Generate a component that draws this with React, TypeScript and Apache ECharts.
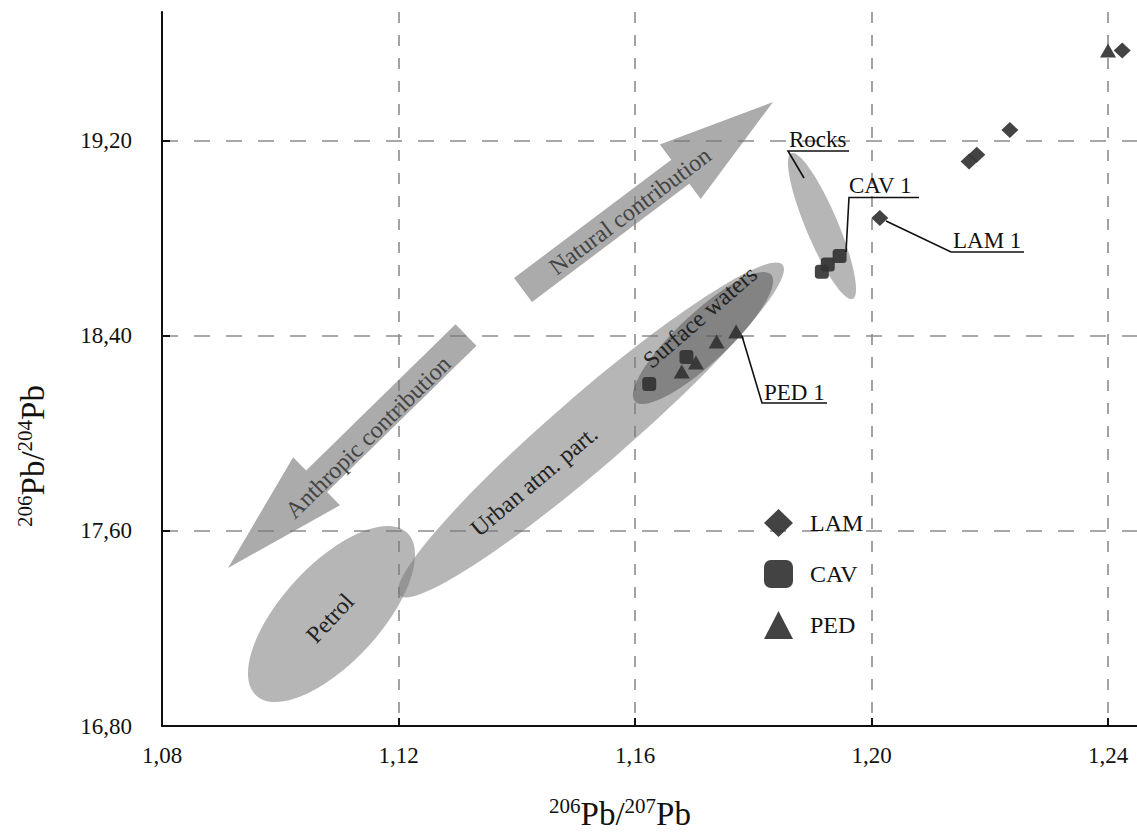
import React, { useEffect, useRef } from 'react';
import * as echarts from 'echarts';

// ---- data ----
const xTicks = [1.08, 1.12, 1.16, 1.2, 1.24];
const yTicks = [16.8, 17.6, 18.4, 19.2];

const seriesNames = ['LAM', 'CAV', 'PED'];
const lamX = [1.2424, 1.2234, 1.2178, 1.2165, 1.2014];
const lamY = [19.571, 19.245, 19.143, 19.116, 18.884];
const cavX = [1.1946, 1.1926, 1.1916, 1.1687, 1.1624];
const cavY = [18.728, 18.693, 18.663, 18.314, 18.203];
const pedX = [1.24, 1.1771, 1.1738, 1.1703, 1.1679];
const pedY = [19.571, 18.418, 18.377, 18.291, 18.254];

const FONT = '"Liberation Serif", "Times New Roman", serif';
const fmt = (v: number) => v.toFixed(2).replace('.', ',');
const isTick = (arr: number[], v: number) => arr.some((t) => Math.abs(t - v) < 1e-6);
const deg = (d: number) => (d * Math.PI) / 180;

function arrowPoints(tail: number[], tip: number[], w: number, hw: number, hl: number) {
  const dx = tip[0] - tail[0];
  const dy = tip[1] - tail[1];
  const len = Math.hypot(dx, dy);
  const ux = dx / len, uy = dy / len;
  const px = -uy, py = ux;
  const bx = tip[0] - ux * hl, by = tip[1] - uy * hl;
  return [
    [tail[0] + (px * w) / 2, tail[1] + (py * w) / 2],
    [bx + (px * w) / 2, by + (py * w) / 2],
    [bx + (px * hw) / 2, by + (py * hw) / 2],
    [tip[0], tip[1]],
    [bx - (px * hw) / 2, by - (py * hw) / 2],
    [bx - (px * w) / 2, by - (py * w) / 2],
    [tail[0] - (px * w) / 2, tail[1] - (py * w) / 2],
  ];
}

function ellipse(x: number, y: number, a: number, b: number, rot: number, fill: string) {
  return { type: 'ellipse', x, y, rotation: deg(rot), z: 1, silent: true, shape: { cx: 0, cy: 0, rx: a, ry: b }, style: { fill } };
}

function label(text: string, x: number, y: number, rot: number, fill: string, size = 24, align = 'center') {
  return {
    type: 'text', x, y, rotation: deg(rot), z: 10, silent: true,
    style: { text, fill, fontSize: size, fontFamily: FONT, align, verticalAlign: 'middle' },
  };
}

function leader(points: number[][]) {
  return { type: 'polyline', z: 10, silent: true, shape: { points }, style: { stroke: '#111', lineWidth: 1.6, fill: null } };
}

const LIGHT = 'rgba(120,120,120,0.54)';
const DARK = 'rgba(80,80,80,0.5)';
const ARROW = 'rgba(120,120,120,0.62)';
const MARK = '#333333';

const titleRich = {
  s: { fontSize: 21, fontFamily: FONT, fill: '#111', verticalAlign: 'top', lineHeight: 18 },
  p: { fontSize: 33, fontFamily: FONT, fill: '#111', lineHeight: 37 },
};

const option: any = {
  animation: false,
  backgroundColor: '#fff',
  grid: { left: 162, right: -2, top: 12, bottom: 106, containLabel: false },
  xAxis: {
    type: 'value', min: 1.08, max: 1.2449, interval: 0.04,
    axisLine: { show: true, onZero: false, lineStyle: { color: '#111', width: 2 } },
    axisTick: { show: true, inside: true, length: 8, customValues: xTicks, lineStyle: { color: '#111', width: 2 } },
    axisLabel: {
      customValues: xTicks, margin: 18, fontSize: 23, fontFamily: FONT, color: '#111',
      formatter: (v: number) => (isTick(xTicks, v) ? fmt(v) : ''),
    },
    splitLine: { show: true, showMinLine: false, lineStyle: { color: '#8c8c8c', width: 1.6, type: [11, 12] } },
  },
  yAxis: {
    type: 'value', min: 16.8, max: 19.729, interval: 0.8,
    axisLine: { show: true, onZero: false, lineStyle: { color: '#111', width: 2 } },
    axisTick: { show: true, inside: true, length: 8, customValues: yTicks, lineStyle: { color: '#111', width: 2 } },
    axisLabel: {
      customValues: yTicks, margin: 30, fontSize: 23, fontFamily: FONT, color: '#111',
      formatter: (v: number) => (isTick(yTicks, v) ? fmt(v) : ''),
    },
    splitLine: { show: true, showMinLine: false, lineStyle: { color: '#8c8c8c', width: 1.6, type: [16, 16] } },
  },
  legend: {
    orient: 'vertical', left: 759, top: 504, itemWidth: 29, itemHeight: 28, itemGap: 23,
    selectedMode: false, data: seriesNames,
    textStyle: { fontFamily: FONT, fontSize: 24, color: '#111', padding: [0, 0, 0, 12] },
  },
  series: [
    {
      type: 'scatter', name: seriesNames[0], symbol: 'diamond', symbolSize: [17, 16], z: 5,
      itemStyle: { color: MARK, opacity: 0.92 }, data: lamX.map((x, i) => [x, lamY[i]]),
    },
    {
      type: 'scatter', name: seriesNames[1], symbol: 'roundRect', symbolSize: 14, z: 5,
      itemStyle: { color: MARK, opacity: 0.92 }, data: cavX.map((x, i) => [x, cavY[i]]),
    },
    {
      type: 'scatter', name: seriesNames[2], symbol: 'triangle', symbolSize: [16, 14], z: 5,
      itemStyle: { color: MARK, opacity: 0.92 }, data: pedX.map((x, i) => [x, pedY[i]]),
    },
  ],
  graphic: [
    ellipse(331.5, 614, 111, 49, 47.2, LIGHT),
    ellipse(591, 430, 253, 36, 40.8, LIGHT),
    ellipse(703, 338, 93, 25, 43, DARK),
    ellipse(822, 226, 79, 16, 112.8, LIGHT),
    { type: 'polygon', z: 1, silent: true, shape: { points: arrowPoints([523, 290], [773, 102], 30, 68, 116) }, style: { fill: ARROW } },
    { type: 'polygon', z: 1, silent: true, shape: { points: arrowPoints([466, 335], [228, 568], 30, 67, 124) }, style: { fill: ARROW } },
    label('Petrol', 330, 618, 47, '#222'),
    label('Urban atm. part.', 534, 481, 40, '#222'),
    label('Surface waters', 700, 317, 41, '#222'),
    label('Natural contribution', 630, 211, 36.9, '#444'),
    label('Anthropic contribution', 368, 437, 44.4, '#444'),
    label('Rocks', 789, 139, 0, '#111', 23, 'left'),
    label('CAV 1', 849, 185, 0, '#111', 23, 'left'),
    label('LAM 1', 953, 240, 0, '#111', 23, 'left'),
    label('PED 1', 764, 392, 0, '#111', 23, 'left'),
    leader([[849, 151], [788, 151], [804, 178]]),
    leader([[919, 197.5], [849, 197.5], [846, 252]]),
    leader([[886, 221], [951, 252], [1024, 252]]),
    leader([[742, 336], [762, 403], [827, 403]]),
    {
      type: 'text', x: 33, y: 456, rotation: Math.PI / 2, z: 10, silent: true,
      style: { text: '{s|206}{p|Pb/}{s|204}{p|Pb}', align: 'center', verticalAlign: 'middle', rich: titleRich },
    },
    {
      type: 'text', x: 620, y: 814, z: 10, silent: true,
      style: { text: '{s|206}{p|Pb/}{s|207}{p|Pb}', align: 'center', verticalAlign: 'middle', rich: titleRich },
    },
  ],
};

export default function App() {
  const ref = useRef<HTMLDivElement>(null);
  useEffect(() => {
    const chart = echarts.init(ref.current as HTMLDivElement, null, { renderer: 'svg' });
    chart.setOption(option);
    return () => chart.dispose();
  }, []);
  return (
    <div
      ref={ref}
      style={{ position: 'absolute', left: 0, top: 0, width: 1137, height: 832, background: '#fff' }}
    />
  );
}
